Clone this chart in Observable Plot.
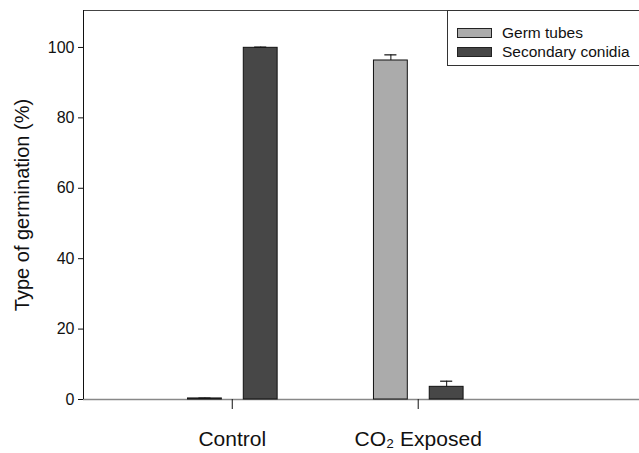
<!DOCTYPE html>
<html>
<head>
<meta charset="utf-8">
<script src="https://cdn.jsdelivr.net/npm/d3@7"></script>
<script src="https://cdn.jsdelivr.net/npm/@observablehq/plot@0.6"></script>
<style>
  html, body { margin: 0; padding: 0; background: #fff; }
  #wrap { position: relative; width: 639px; height: 453px; font-family: "Liberation Sans", Arial, sans-serif; }
  #legend { position: absolute; left: 447px; top: 10px; width: 200px; height: 56px; border: 1px solid #333; border-right: none; box-sizing: border-box; background: #fff; font-size: 15.5px; color: #111; }
  .item { position: absolute; left: 9px; height: 12px; display: flex; align-items: center; }
  .sw { width: 35px; height: 10px; border: 1px solid #222; box-sizing: border-box; margin-right: 10px; }
</style>
</head>
<body>
<div id="wrap"><div id="chart"></div><div id="legend"></div></div>
<script>
const groups = ["Control", "CO₂ Exposed"];
const series = ["Germ tubes", "Secondary conidia"];
const germTubes = [0.3, 96.3];
const germTubesErr = [0.1, 1.6];
const secondaryConidia = [99.9, 3.6];
const secondaryConidiaErr = [0.2, 1.6];
const yTicks = [0, 20, 40, 60, 80, 100];

const colors = ["#ababab", "#474747"];
const offsets = [-0.147, 0.153];
const barW = 0.182;
const capW = 0.065;
const xDomain = [0.2, 3.19];
const yDomain = [0, 110.5];

const rows = [];
groups.forEach((g, gi) => {
  rows.push({group: g, gi, si: 0, value: germTubes[gi], err: germTubesErr[gi]});
  rows.push({group: g, gi, si: 1, value: secondaryConidia[gi], err: secondaryConidiaErr[gi]});
});
const cx = d => d.gi + 1 + offsets[d.si];

const chart = Plot.plot({
  width: 639, height: 453,
  marginLeft: 83, marginRight: 0, marginTop: 10, marginBottom: 54,
  style: {fontFamily: "Liberation Sans, Arial, sans-serif", background: "#fff", color: "#111"},
  x: {domain: xDomain},
  y: {domain: yDomain},
  marks: [
    Plot.ruleY([0], {stroke: "#888", strokeWidth: 1.5}),
    Plot.ruleY([yDomain[1]], {stroke: "#444", strokeWidth: 1}),
    Plot.ruleX([xDomain[0]], {stroke: "#111", strokeWidth: 1}),
    Plot.rect(rows, {x1: d => cx(d) - barW / 2, x2: d => cx(d) + barW / 2, y1: 0, y2: "value",
      fill: d => colors[d.si], stroke: "#111", strokeWidth: 1}),
    Plot.ruleX(rows, {x: cx, y1: "value", y2: d => d.value + d.err, stroke: "#111", strokeWidth: 1}),
    Plot.ruleY(rows, {y: d => d.value + d.err, x1: d => cx(d) - capW / 2, x2: d => cx(d) + capW / 2, stroke: "#111", strokeWidth: 1.2}),
    Plot.axisY({ticks: yTicks, tickSize: 5, tickPadding: 4, fontSize: 16, label: null, stroke: "#111"}),
    Plot.axisX({ticks: [1, 2], tickSize: 10, tickPadding: 22, fontSize: 21, label: null,
      tickFormat: v => groups[v - 1], stroke: "#111"}),
    Plot.text(["Type of germination (%)"], {frameAnchor: "left", dx: -61, rotate: -90,
      textAnchor: "middle", lineAnchor: "middle", fontSize: 20, fill: "#111"})
  ]
});
document.getElementById("chart").appendChild(chart);

const legend = document.getElementById("legend");
series.forEach((s, i) => {
  const it = document.createElement("div");
  it.className = "item";
  it.style.top = (i === 0 ? 16 : 35) + "px";
  const sw = document.createElement("div");
  sw.className = "sw";
  sw.style.background = colors[i];
  it.appendChild(sw);
  const t = document.createElement("span");
  t.textContent = s;
  it.appendChild(t);
  legend.appendChild(it);
});
</script>
</body>
</html>
